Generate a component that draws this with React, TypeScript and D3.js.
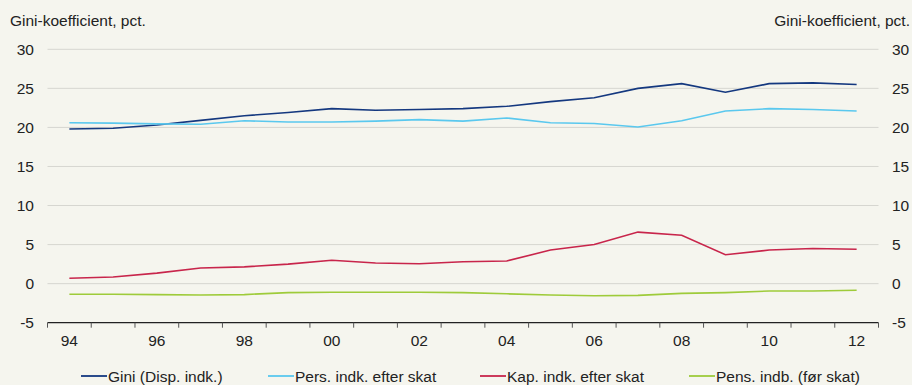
import * as d3 from 'd3';

const YEARS = ['94', '95', '96', '97', '98', '99', '00', '01', '02', '03', '04', '05', '06', '07', '08', '09', '10', '11', '12'];
const TICK_YEARS = ['94', '96', '98', '00', '02', '04', '06', '08', '10', '12'];
const Y_TICKS = [-5, 0, 5, 10, 15, 20, 25, 30];

const GINI = [19.8, 19.9, 20.3, 20.9, 21.5, 21.9, 22.4, 22.2, 22.3, 22.4, 22.7, 23.3, 23.8, 25.0, 25.6, 24.5, 25.6, 25.7, 25.5];
const PERS = [20.6, 20.55, 20.45, 20.4, 20.85, 20.7, 20.7, 20.8, 21.0, 20.8, 21.2, 20.6, 20.5, 20.05, 20.85, 22.1, 22.4, 22.3, 22.1];
const KAP = [0.7, 0.85, 1.35, 2.0, 2.15, 2.5, 3.0, 2.65, 2.55, 2.8, 2.9, 4.3, 5.0, 6.6, 6.2, 3.7, 4.3, 4.5, 4.4];
const PENS = [-1.35, -1.35, -1.4, -1.45, -1.4, -1.15, -1.1, -1.1, -1.1, -1.15, -1.3, -1.45, -1.55, -1.5, -1.25, -1.15, -0.95, -0.95, -0.85];

const SERIES = [
  { name: 'Gini (Disp. indk.)', values: GINI, color: '#14387f' },
  { name: 'Pers. indk. efter skat', values: PERS, color: '#5ac8ee' },
  { name: 'Kap. indk. efter skat', values: KAP, color: '#c8254b' },
  { name: 'Pens. indb. (før skat)', values: PENS, color: '#9ecb3a' },
];
const LEGEND_X = [81, 268, 480, 689];

const W = 912;
const H = 385;
const M = { left: 47.5, right: 878.5, top: 49.3, bottom: 322.7 };
const FONT = '"Liberation Sans", Arial, sans-serif';
const TEXT = '#222';
const FS = 15.5;

export default function App() {
  const x = d3.scaleBand<string>().domain(YEARS).range([M.left, M.right]);
  const y = d3.scaleLinear().domain([-5, 30]).range([M.bottom, M.top]);
  const cx = (yr: string) => (x(yr) ?? 0) + x.bandwidth() / 2;
  const line = d3.line<number>().x((_, i) => cx(YEARS[i])).y(d => y(d));
  const tickXs = [...YEARS.map(yr => x(yr) ?? 0), M.right];

  return (
    <svg width={W} height={H} style={{ position: 'fixed', left: 0, top: 0, background: '#f5f5ee' }} fontFamily={FONT}>
      <rect width={W} height={H} fill="#f5f5ee" />
      <text x={10} y={26} fontSize={FS} fill={TEXT}>Gini-koefficient, pct.</text>
      <text x={910} y={26} fontSize={FS} fill={TEXT} textAnchor="end">Gini-koefficient, pct.</text>

      {Y_TICKS.filter(t => t > -5).map(t => (
        <line key={'g' + t} x1={M.left} x2={M.right} y1={y(t)} y2={y(t)} stroke="#d6d6d0" strokeWidth={1} />
      ))}
      {Y_TICKS.map(t => (
        <g key={'t' + t} fontSize={FS} fill={TEXT}>
          <text x={34} y={y(t)} dy="0.35em" textAnchor="end">{t}</text>
          <text x={892} y={y(t)} dy="0.35em">{t}</text>
        </g>
      ))}

      <line x1={M.left} x2={M.right} y1={M.bottom} y2={M.bottom} stroke="#222" strokeWidth={1.2} />
      {tickXs.map((tx, i) => (
        <line key={'xt' + i} x1={tx} x2={tx} y1={M.bottom} y2={M.bottom + 5} stroke="#555" strokeWidth={1} />
      ))}
      {TICK_YEARS.map(yr => (
        <text key={yr} x={cx(yr)} y={346} fontSize={FS} fill={TEXT} textAnchor="middle">{yr}</text>
      ))}

      {SERIES.map(s => (
        <path key={s.name} d={line(s.values) ?? ''} fill="none" stroke={s.color} strokeWidth={1.6} />
      ))}

      {SERIES.map((s, i) => (
        <g key={'l' + s.name}>
          <line x1={LEGEND_X[i]} x2={LEGEND_X[i] + 26} y1={376} y2={376} stroke={s.color} strokeWidth={1.8} />
          <text x={LEGEND_X[i] + 27} y={381.5} fontSize={FS} fill={TEXT}>{s.name}</text>
        </g>
      ))}
    </svg>
  );
}
